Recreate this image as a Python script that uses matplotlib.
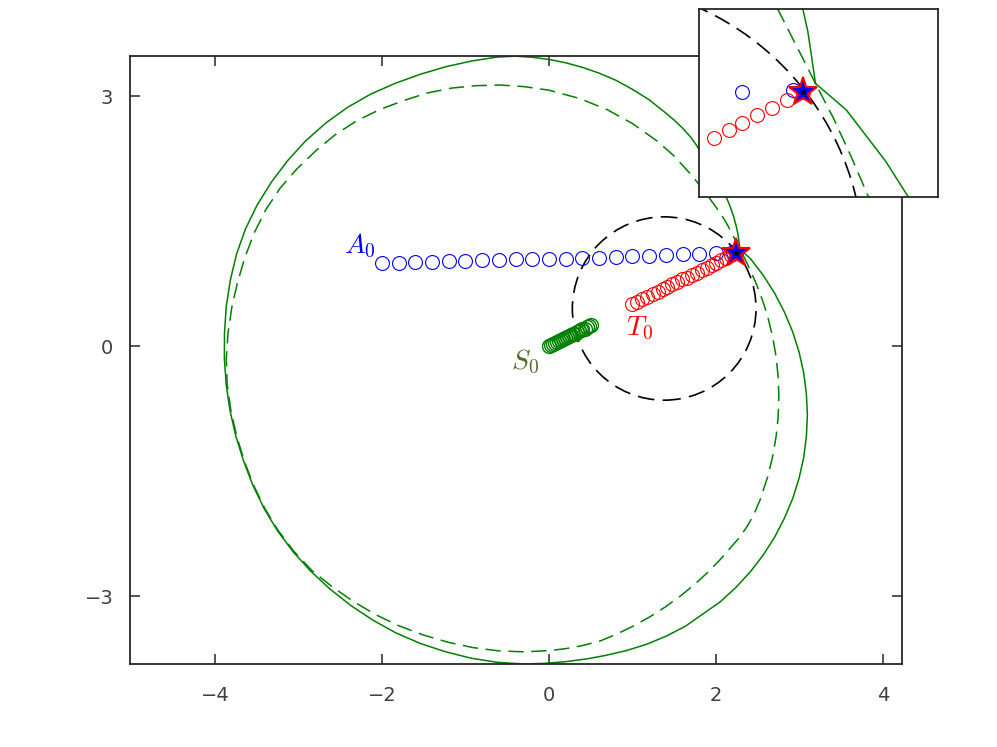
import matplotlib.pyplot as plt
from matplotlib.patches import Circle

plt.rcParams['mathtext.fontset'] = 'cm'

# attacker, target, defender paths
a_x = [-2.0, -1.8, -1.6, -1.4, -1.2, -1.0, -0.8, -0.6, -0.4, -0.2, 0.0,
       0.2, 0.4, 0.6, 0.8, 1.0, 1.2, 1.4, 1.6, 1.8, 2.0, 2.2]
a_y = [1.00, 1.00, 1.01, 1.01, 1.02, 1.02, 1.03, 1.03, 1.04, 1.04, 1.05,
       1.05, 1.06, 1.06, 1.07, 1.08, 1.08, 1.09, 1.10, 1.11, 1.12, 1.13]
t_x = [1.00, 1.06, 1.12, 1.18, 1.24, 1.30, 1.36, 1.41, 1.47, 1.53, 1.59,
       1.65, 1.71, 1.77, 1.83, 1.89, 1.95, 2.00, 2.06, 2.12, 2.18, 2.24]
t_y = [0.50, 0.53, 0.56, 0.59, 0.62, 0.65, 0.68, 0.71, 0.74, 0.77, 0.80,
       0.82, 0.85, 0.88, 0.91, 0.94, 0.97, 1.00, 1.03, 1.06, 1.09, 1.12]
s_x = [0.00, 0.02, 0.05, 0.07, 0.10, 0.12, 0.14, 0.17, 0.19, 0.21, 0.24,
       0.26, 0.29, 0.31, 0.33, 0.36, 0.38, 0.40, 0.43, 0.45, 0.48, 0.50]
s_y = [0.00, 0.01, 0.02, 0.04, 0.05, 0.06, 0.07, 0.08, 0.10, 0.11, 0.12,
       0.13, 0.14, 0.15, 0.17, 0.18, 0.19, 0.20, 0.21, 0.23, 0.24, 0.25]
capture = (2.24, 1.12)

# black dashed circle
circ_c = (1.38, 0.45)
circ_r = 1.10

# solid green boundary (traced, counter-clockwise from the corner)
sol = [(2.29, 1.155), (2.275, 1.26), (2.26, 1.36), (2.242, 1.441), (2.21, 1.56),
       (2.16, 1.70), (2.10, 1.84), (2.02, 1.99), (1.93, 2.14), (1.84, 2.29),
       (1.76, 2.42), (1.69, 2.515), (1.60, 2.615), (1.50, 2.71), (1.40, 2.795),
       (1.20, 2.955), (1.00, 3.08), (0.80, 3.19), (0.60, 3.275), (0.40, 3.344),
       (0.20, 3.399), (0.00, 3.439), (-0.20, 3.465), (-0.40, 3.478),
       (-0.617, 3.468), (-0.929, 3.42), (-1.238, 3.351), (-1.541, 3.261),
       (-1.840, 3.153), (-2.133, 3.024), (-2.411, 2.865), (-2.672, 2.677),
       (-2.913, 2.463), (-3.130, 2.225), (-3.324, 1.968), (-3.494, 1.694),
       (-3.635, 1.405), (-3.742, 1.103), (-3.816, 0.792), (-3.865, 0.478),
       (-3.886, 0.164), (-3.888, -0.150), (-3.866, -0.462), (-3.821, -0.771),
       (-3.752, -1.075), (-3.660, -1.373), (-3.549, -1.665), (-3.413, -1.948),
       (-3.252, -2.217), (-3.064, -2.470), (-2.853, -2.703), (-2.622, -2.917),
       (-2.375, -3.113), (-2.112, -3.288), (-1.835, -3.442), (-1.544, -3.568),
       (-1.243, -3.668), (-0.934, -3.746), (-0.619, -3.796), (-0.30, -3.816),
       (-0.05, -3.808), (0.20, -3.788), (0.45, -3.755), (0.678, -3.713),
       (0.927, -3.655), (1.170, -3.579), (1.407, -3.480), (1.633, -3.363),
       (1.840, -3.218), (2.050, -3.071), (2.238, -2.898), (2.411, -2.710),
       (2.566, -2.508), (2.703, -2.293), (2.820, -2.066), (2.919, -1.830),
       (2.995, -1.588), (3.051, -1.338), (3.083, -1.085), (3.095, -0.830),
       (3.083, -0.575), (3.051, -0.322), (2.995, -0.072), (2.919, 0.170),
       (2.820, 0.407), (2.703, 0.633), (2.566, 0.849), (2.411, 1.051),
       (2.29, 1.155)]

# dashed green boundary (traced)
dsh = [(2.29, 1.155), (2.25, 1.235), (2.21, 1.313), (2.17, 1.392), (2.145, 1.441),
       (2.09, 1.535), (2.02, 1.64), (1.94, 1.75), (1.85, 1.87), (1.76, 1.985),
       (1.689, 2.07), (1.50, 2.279), (1.30, 2.456), (1.00, 2.67), (0.70, 2.835),
       (0.371, 2.969), (0.00, 3.07), (-0.30, 3.113), (-0.587, 3.132),
       (-0.877, 3.124), (-1.170, 3.095), (-1.459, 3.036), (-1.743, 2.945),
       (-2.025, 2.838), (-2.299, 2.705), (-2.556, 2.539), (-2.793, 2.343),
       (-3.016, 2.129), (-3.220, 1.895), (-3.392, 1.635), (-3.531, 1.357),
       (-3.641, 1.066), (-3.729, 0.769), (-3.798, 0.467), (-3.844, 0.160),
       (-3.865, -0.150), (-3.854, -0.461), (-3.811, -0.769), (-3.743, -1.073),
       (-3.653, -1.370), (-3.542, -1.662), (-3.406, -1.944), (-3.245, -2.212),
       (-3.056, -2.463), (-2.842, -2.692), (-2.598, -2.888), (-2.342, -3.066),
       (-2.075, -3.224), (-1.796, -3.358), (-1.507, -3.467), (-1.212, -3.554),
       (-0.911, -3.619), (-0.607, -3.658), (-0.30, -3.670), (0.00, -3.655),
       (0.20, -3.632), (0.40, -3.595), (0.612, -3.54), (0.805, -3.46),
       (1.011, -3.36), (1.208, -3.25), (1.395, -3.13), (1.574, -3.00),
       (1.733, -2.87), (1.889, -2.728), (2.044, -2.57), (2.183, -2.41),
       (2.28, -2.30), (2.37, -2.17), (2.45, -2.03), (2.527, -1.85),
       (2.62, -1.568), (2.678, -1.33), (2.72, -1.088), (2.745, -0.85),
       (2.753, -0.608), (2.745, -0.37), (2.72, -0.128), (2.679, 0.11),
       (2.62, 0.352), (2.564, 0.53), (2.497, 0.712), (2.43, 0.868),
       (2.36, 1.02), (2.29, 1.155)]

green = '#008000'
dash = (0, (10, 5))


def inside(xs, ys, lim):
    # matlab-style: marker only shown if its centre is inside the axes
    if lim is None:
        return xs, ys
    keep = [(x, y) for x, y in zip(xs, ys)
            if lim[0] <= x <= lim[1] and lim[2] <= y <= lim[3]]
    return [k[0] for k in keep], [k[1] for k in keep]


def draw(ax, lim=None):
    ax.plot([p[0] for p in sol], [p[1] for p in sol], color=green, lw=1.1)
    ax.plot([p[0] for p in dsh], [p[1] for p in dsh], color=green, lw=1.1, ls=dash)
    ax.add_patch(Circle(circ_c, circ_r, fill=False, ec='k', lw=1.2, ls=dash))
    ax.plot(*inside(a_x, a_y, lim), 'o', mfc='none', mec='b', ms=10, mew=0.8)
    ax.plot(*inside(t_x, t_y, lim), 'o', mfc='none', mec='r', ms=10, mew=0.8)
    ax.plot(*inside(s_x, s_y, lim), 'o', mfc='none', mec=green, ms=10, mew=1.0)
    ax.plot(capture[0], capture[1], '*', mfc='b', mec='r', ms=21, mew=1.5)
    ax.plot(capture[0], capture[1], 'o', color='k', ms=2.5)


fig = plt.figure(figsize=(9.97, 7.47), dpi=100)
ax = fig.add_axes([0.1304, 0.1111, 0.7743, 0.8139])
draw(ax)
ax.set_xlim(-5.018, 4.228)
ax.set_ylim(-3.816, 3.48)
ax.set_xticks([-4, -2, 0, 2, 4])
ax.set_yticks([-3, 0, 3])
ax.tick_params(direction='in', top=True, right=True, length=7, width=1.1,
               color='#262626', labelcolor='#404040', labelsize=14)
ax.tick_params(axis='x', pad=16)
ax.tick_params(axis='y', pad=12)
for s in ax.spines.values():
    s.set_color('#262626')
    s.set_linewidth(1.3)

ax.text(-2.26, 1.2, '$A_0$', color='b', fontsize=20, ha='center', va='center')
ax.text(1.09, 0.22, '$T_0$', color='r', fontsize=20, ha='center', va='center')
ax.text(-0.29, -0.19, '$S_0$', color='#4d6e2a', fontsize=20, ha='center', va='center')

ins_lim = (1.833, 2.771, 0.709, 1.447)
ins = fig.add_axes([0.7014, 0.7367, 0.2391, 0.2509])
draw(ins, ins_lim)
ins.set_xlim(ins_lim[0], ins_lim[1])
ins.set_ylim(ins_lim[2], ins_lim[3])
ins.set_xticks([])
ins.set_yticks([])
for s in ins.spines.values():
    s.set_color('#262626')
    s.set_linewidth(1.3)

fig.savefig('out.png', dpi=100)
